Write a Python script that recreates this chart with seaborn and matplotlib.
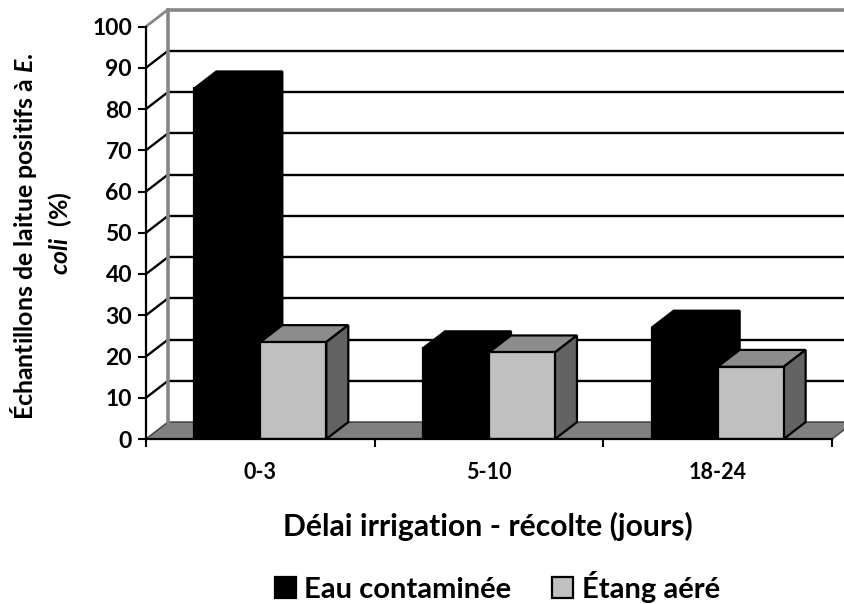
import matplotlib
matplotlib.use("Agg")
import matplotlib.pyplot as plt
from matplotlib.patches import Polygon, Patch
import pandas as pd
import seaborn as sns

categories = ["0-3", "5-10", "18-24"]
series_names = ["Eau contaminée", "Étang aéré"]
eau_contaminee = [85, 22, 27]
etang_aere = [23.5, 21, 17.5]
y_ticks = list(range(0, 101, 10))

W, H = 844, 604
DEPTH_X = 22 / 228.67      # category units
DEPTH_Y = 4.1              # value units

sns.set_theme(style="white")
plt.rcParams["font.family"] = ["Lato", "DejaVu Sans"]
plt.rcParams["font.weight"] = "bold"
plt.rcParams["text.color"] = "black"
plt.rcParams["mathtext.fontset"] = "custom"
plt.rcParams["mathtext.it"] = "Lato:italic:bold"
plt.rcParams["mathtext.rm"] = "Lato:bold"

df = pd.DataFrame({
    "cat": categories * 2,
    "serie": [series_names[0]] * 3 + [series_names[1]] * 3,
    "val": eau_contaminee + etang_aere,
})

fig = plt.figure(figsize=(W / 100, H / 100), dpi=100, facecolor="white")
ax = fig.add_axes([146 / W, 1 - 439 / H, 686 / W, 412.5 / H])
ax.set_facecolor("none")

sns.barplot(data=df, x="cat", y="val", hue="serie", order=categories,
            hue_order=series_names, palette=["#000000", "#c0c0c0"],
            width=0.577, gap=0, saturation=1, errorbar=None, legend=False,
            edgecolor="black", linewidth=1.6, ax=ax, zorder=5)
ax.set_xlim(-0.5, 2.5)
ax.set_ylim(0, 100)

# back wall, side wall and floor
x0, x1 = -0.5, 2.5
floor = Polygon([(x0, 0), (x0 + DEPTH_X, DEPTH_Y), (x1 + DEPTH_X, DEPTH_Y), (x1, 0)],
                closed=True, fc="#808080", ec="#4a4a4a", lw=1.2, zorder=1, clip_on=False)
ax.add_patch(floor)
for v in y_ticks:
    top = v == 100
    if v == 0:
        continue
    c = "#868686" if top else "black"
    lw = 2.6 if top else 1.7
    ax.plot([x0 + DEPTH_X, x1 + DEPTH_X], [v + DEPTH_Y] * 2, color=c, lw=lw,
            zorder=1.5, clip_on=False, solid_capstyle="butt")
    ax.plot([x0, x0 + DEPTH_X], [v, v + DEPTH_Y], color=c, lw=1.7 if not top else 2,
            zorder=1.5, clip_on=False)
ax.plot([x0 + DEPTH_X] * 2, [DEPTH_Y, 100 + DEPTH_Y], color="#868686", lw=2.6,
        zorder=1.6, clip_on=False, solid_capstyle="projecting")

# 3D faces of the bars, built from the bars seaborn drew
bars = sorted(ax.patches, key=lambda p: p.get_x() if p is not floor else -99)
for b in bars:
    if b is floor:
        continue
    l, w, h = b.get_x(), b.get_width(), b.get_height()
    if h <= 0:
        continue
    black = b.get_facecolor()[0] < 0.1
    r = l + w
    top_c = "black" if black else "#8c8c8c"
    side_c = "black" if black else "#636363"
    z = 3 if black else 4
    b.set_zorder(z + 0.2)
    ax.add_patch(Polygon([(l, h), (l + DEPTH_X, h + DEPTH_Y), (r + DEPTH_X, h + DEPTH_Y), (r, h)],
                         closed=True, fc=top_c, ec="black", lw=1.6, zorder=z, clip_on=False))
    ax.add_patch(Polygon([(r, 0), (r + DEPTH_X, DEPTH_Y), (r + DEPTH_X, h + DEPTH_Y), (r, h)],
                         closed=True, fc=side_c, ec="black", lw=1.6, zorder=z, clip_on=False))

# axes
sns.despine(ax=ax, top=True, right=True)
for s in ("left", "bottom"):
    ax.spines[s].set_color("black")
    ax.spines[s].set_linewidth(1.6)
    ax.spines[s].set_zorder(6)
ax.set_yticks(y_ticks)
ax.set_xticks([-0.5, 0.5, 1.5, 2.5])
ax.set_xticklabels([])
ax.tick_params(axis="both", which="major", direction="out", length=6, width=1.5,
               color="black", labelcolor="black", left=True, bottom=True, labelsize=16.5, pad=4)
for t in ax.get_yticklabels():
    t.set_fontweight("bold")
for i, c in enumerate(categories):
    ax.annotate(c, xy=(i, 0), xycoords=("data", "axes fraction"), xytext=(0, -24),
                textcoords="offset points", ha="center", va="center",
                fontsize=15.5, fontweight="bold", color="black")
ax.set_xlabel("")
ax.set_ylabel("")

fig.text(488 / W, 1 - 526 / H, "Délai irrigation - récolte (jours)", ha="center", va="center",
         fontsize=21.7, fontweight="bold", color="black")
fig.text(24 / W, 1 - 236 / H, "Échantillons de laitue positifs à $E.$", rotation=90,
         ha="center", va="center", fontsize=17.9, fontweight="bold", color="black")
fig.text(60 / W, 1 - 233 / H, "$coli$  (%)", rotation=90,
         ha="center", va="center", fontsize=17.9, fontweight="bold", color="black")

handles = [Patch(fc="#000000", ec="black", lw=1.6), Patch(fc="#c0c0c0", ec="black", lw=1.6)]
fig.legend(handles, series_names, ncol=2, loc="center", bbox_to_anchor=(497.5 / W, 1 - 587 / H),
           frameon=False, prop={"size": 21, "weight": "bold"}, handlelength=0.72, handleheight=0.72,
           handletextpad=0.3, columnspacing=1.4, borderaxespad=0, borderpad=0, labelcolor="black")

fig.savefig("out.png", dpi=100)
